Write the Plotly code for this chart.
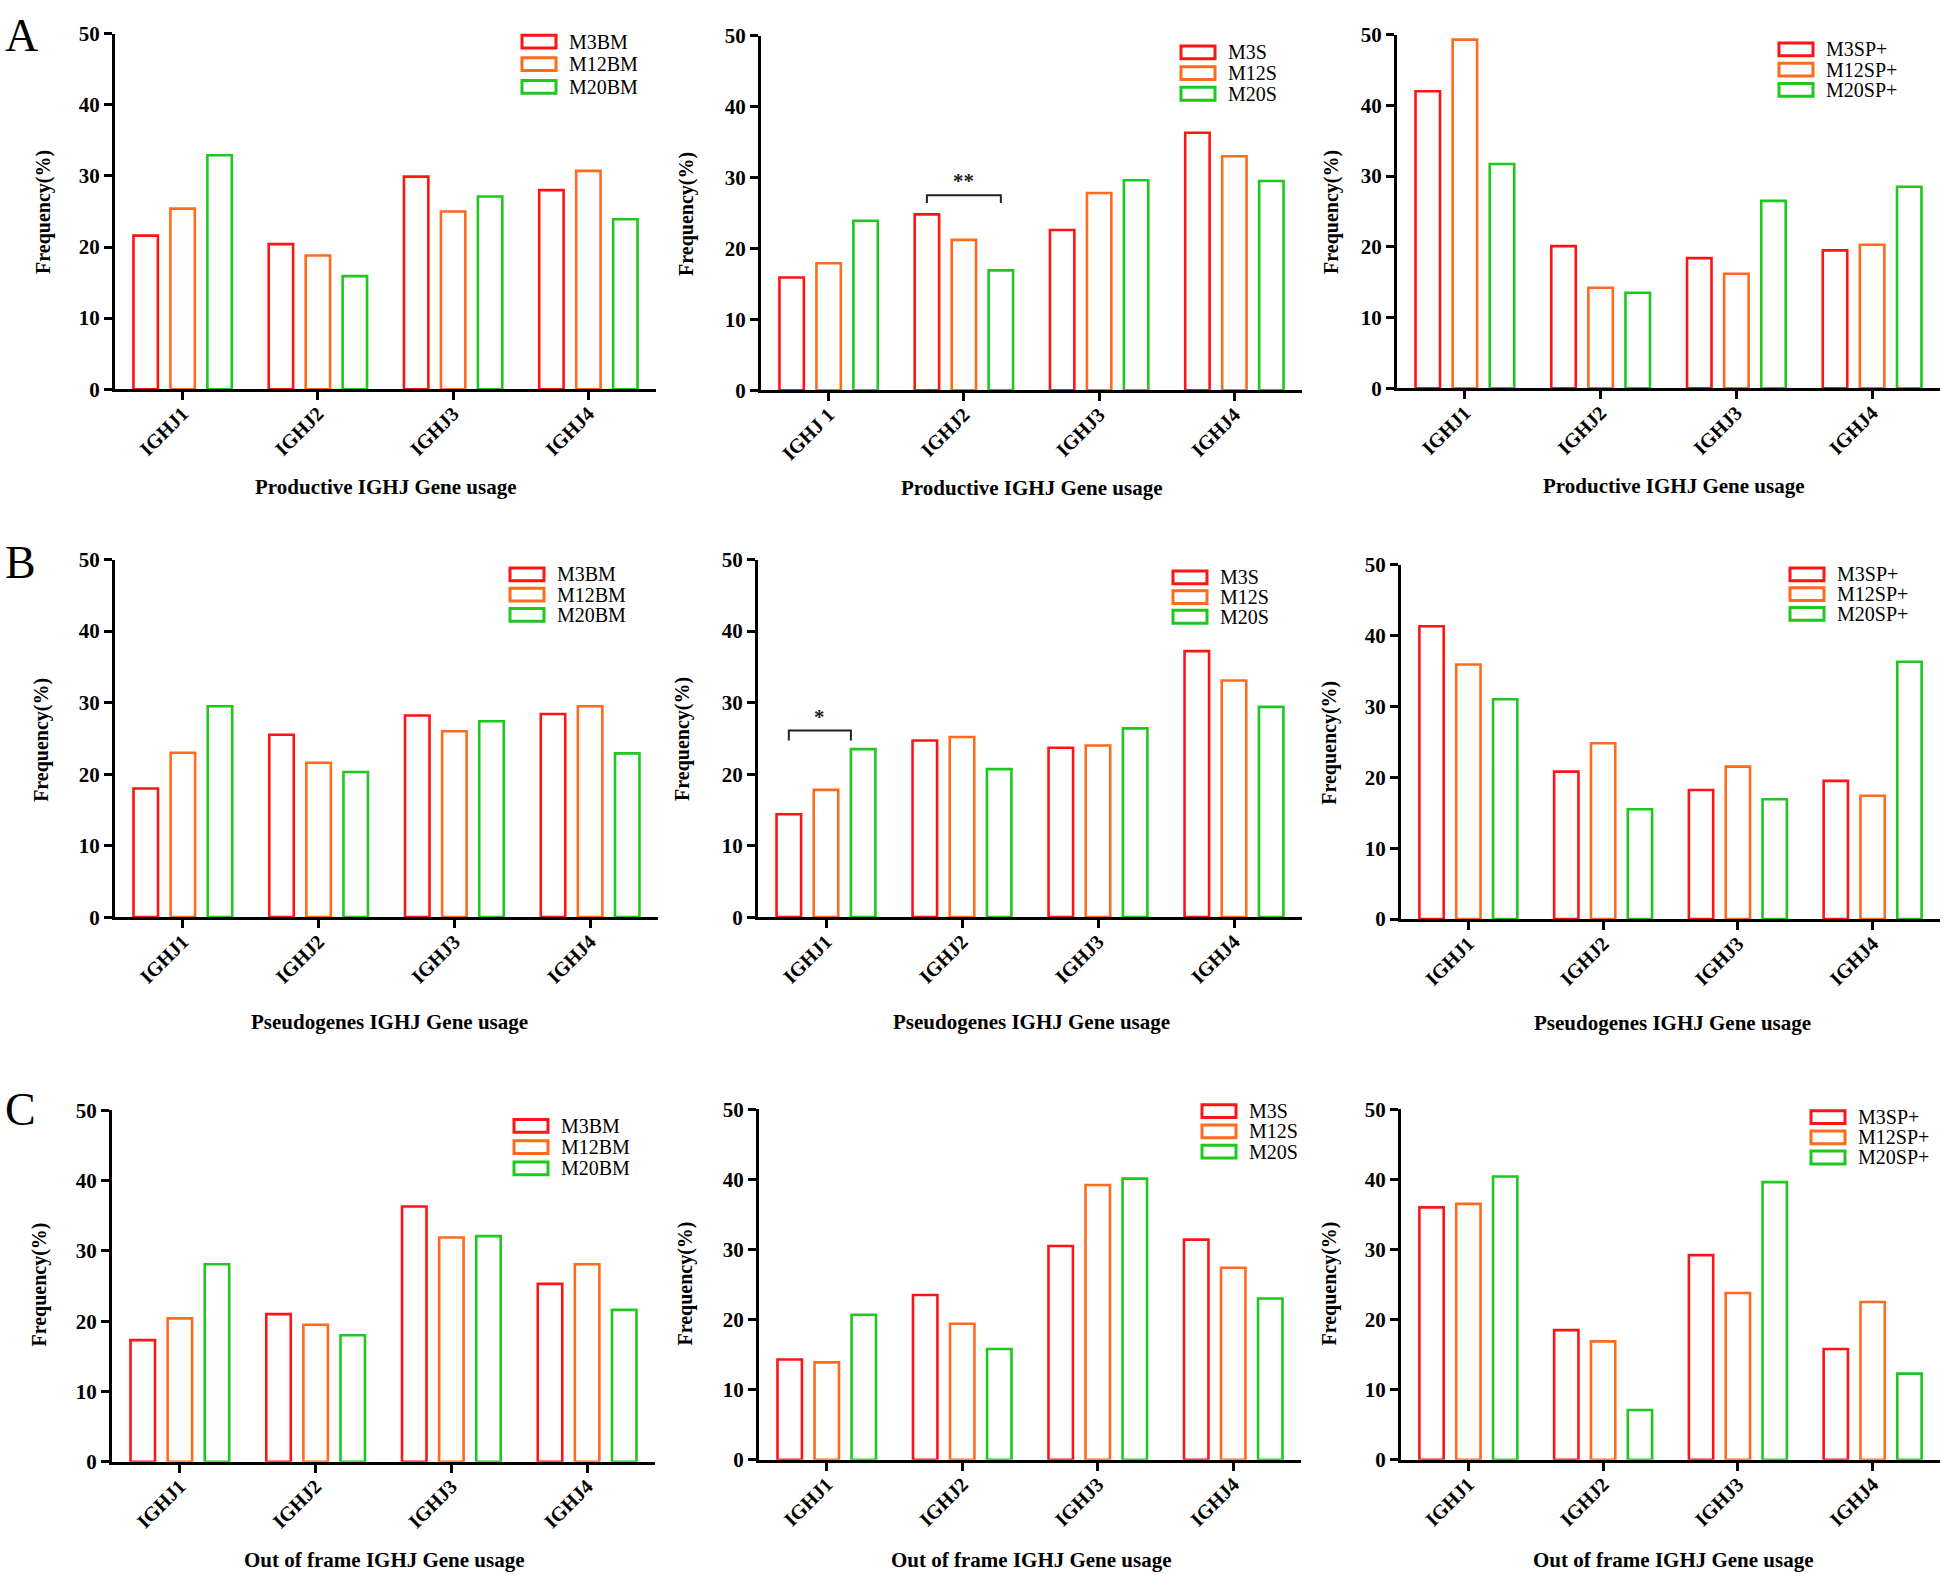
import plotly.graph_objects as go

W, H = 1946, 1593

# ---------------- data ----------------
categories = ["IGHJ1", "IGHJ2", "IGHJ3", "IGHJ4"]
categories_spaced = ["IGHJ 1", "IGHJ2", "IGHJ3", "IGHJ4"]
series_bm = ["M3BM", "M12BM", "M20BM"]
series_s = ["M3S", "M12S", "M20S"]
series_sp = ["M3SP+", "M12SP+", "M20SP+"]

# rows: M3, M12, M20 ; columns: IGHJ1..IGHJ4
productive_bm = [[21.6, 20.4, 29.9, 28.0], [25.4, 18.8, 25.0, 30.7], [32.9, 15.9, 27.1, 23.9]]
productive_s = [[15.9, 24.8, 22.6, 36.3], [17.9, 21.2, 27.8, 33.0], [23.9, 16.9, 29.6, 29.5]]
productive_sp = [[42.0, 20.1, 18.4, 19.5], [49.3, 14.2, 16.2, 20.3], [31.7, 13.5, 26.5, 28.5]]
pseudo_bm = [[18.0, 25.5, 28.2, 28.4], [23.0, 21.6, 26.0, 29.5], [29.5, 20.3, 27.4, 22.9]]
pseudo_s = [[14.4, 24.7, 23.7, 37.2], [17.8, 25.2, 24.0, 33.1], [23.5, 20.7, 26.4, 29.4]]
pseudo_sp = [[41.3, 20.8, 18.2, 19.5], [35.9, 24.8, 21.5, 17.4], [31.0, 15.5, 16.9, 36.3]]
outframe_bm = [[17.3, 21.0, 36.3, 25.3], [20.4, 19.5, 31.9, 28.1], [28.1, 18.0, 32.1, 21.6]]
outframe_s = [[14.3, 23.5, 30.5, 31.4], [13.9, 19.4, 39.2, 27.4], [20.7, 15.8, 40.1, 23.0]]
outframe_sp = [[36.0, 18.5, 29.2, 15.8], [36.5, 16.9, 23.8, 22.5], [40.4, 7.1, 39.6, 12.3]]

y_ticks = [0, 10, 20, 30, 40, 50]
row_letters = ["A", "B", "C"]
x_titles = ["Productive IGHJ Gene usage", "Pseudogenes IGHJ Gene usage", "Out of frame IGHJ Gene usage"]
y_title = "Frequency(%)"

# significance: (panel index, category index, label, bracket level, bracket foot, span kind)
sig_labels = [(1, 1, "**", 27.5, 26.4, "full"), (4, 0, "*", 26.1, 24.7, "half")]

# ---------------- style / layout ----------------
colors = ["#FF1414", "#FF6A1C", "#1EC81E"]
FONT = "Liberation Serif"
BARGAP = 0.18
BARGROUPGAP = 0.34
LINE_W = 2.6

# pixel boxes of plot areas: (left, top, right, bottom)
boxes = [
    (115, 22, 656, 383), (761, 24, 1302, 384), (1397, 23, 1940, 382),
    (115, 556, 658, 919), (758, 556, 1302, 919), (1401, 561, 1940, 921),
    (112, 1115, 655, 1472), (759, 1114, 1301, 1470), (1401, 1114, 1940, 1470),
]
# legend: (box left x, first row centre y, row spacing)
legends = [
    (522, 30, 23), (1181, 41, 21), (1779, 38, 20.5),
    (510, 571, 20.5), (1173, 574, 20), (1790, 571, 20),
    (514, 1131, 21.5), (1202, 1116, 20.5), (1811, 1122, 20.5),
]
LEG_BOX_W, LEG_BOX_H, LEG_TEXT_GAP = 34, 13, 12
xtitle_pos = [(386, 482), (1032, 483), (1674, 481),
              (389, 1025), (1031, 1025), (1672, 1026),
              (384, 1572), (1031, 1572), (1673, 1572)]
ytitle_pos = [(44, 203), (687, 205), (1332, 203),
              (42, 739), (683, 738), (1330, 742),
              (40, 1292), (686, 1291), (1330, 1291)]
letter_pos = [(3, -4), (3, 531), (3, 1086)]


def px(x):
    return x / W


def py(y):
    return 1 - y / H


panels = [
    (productive_bm, series_bm, categories), (productive_s, series_s, categories_spaced), (productive_sp, series_sp, categories),
    (pseudo_bm, series_bm, categories), (pseudo_s, series_s, categories), (pseudo_sp, series_sp, categories),
    (outframe_bm, series_bm, categories), (outframe_s, series_s, categories), (outframe_sp, series_sp, categories),
]

fig = go.Figure()
layout = dict(
    width=W, height=H, margin=dict(l=0, r=0, t=0, b=0),
    paper_bgcolor="white", plot_bgcolor="white",
    barmode="group", bargap=BARGAP, bargroupgap=BARGROUPGAP,
    showlegend=False,
)
annotations = []
shapes = []

for i, (vals, names, cats) in enumerate(panels):
    n = i + 1
    xa = "x" if n == 1 else f"x{n}"
    ya = "y" if n == 1 else f"y{n}"
    for s in range(3):
        fig.add_trace(go.Bar(
            x=cats, y=vals[s], name=names[s], xaxis=xa, yaxis=ya,
            marker=dict(color="white", line=dict(color=colors[s], width=LINE_W)),
            showlegend=False,
        ))
    l, t, r, b = boxes[i]
    layout["xaxis" if n == 1 else f"xaxis{n}"] = dict(
        domain=[px(l), px(r)], anchor=ya, range=[-0.5, 3.5],
        showline=True, linecolor="black", linewidth=3,
        ticks="outside", ticklen=8, tickwidth=3, tickcolor="black",
        tickangle=-45, showgrid=False, zeroline=False, ticklabelstandoff=-6,
        tickfont=dict(family=FONT, size=20, color="black", weight="bold"),
    )
    layout["yaxis" if n == 1 else f"yaxis{n}"] = dict(
        domain=[py(b), py(t)], anchor=xa, range=[0, 50], tickvals=y_ticks,
        showline=True, linecolor="black", linewidth=3,
        ticks="outside", ticklen=8, tickwidth=3, tickcolor="black",
        showgrid=False, zeroline=False,
        tickfont=dict(family=FONT, size=21, color="black", weight="bold"),
    )
    # titles
    tx, ty = xtitle_pos[i]
    annotations.append(dict(
        text=x_titles[i // 3], x=px(tx), y=py(ty), xref="paper", yref="paper",
        xanchor="center", yanchor="middle", showarrow=False, borderpad=0,
        font=dict(family=FONT, size=21, color="black", weight="bold"),
    ))
    yx, yy = ytitle_pos[i]
    annotations.append(dict(
        text=y_title, x=px(yx), y=py(yy), xref="paper", yref="paper",
        xanchor="center", yanchor="middle", showarrow=False, textangle=-90,
        font=dict(family=FONT, size=20, color="black", weight="bold"),
    ))
    # legend
    lx, ly0, dy = legends[i]
    for s in range(3):
        cy = ly0 + s * dy
        shapes.append(dict(
            type="rect", xref="paper", yref="paper",
            x0=px(lx), x1=px(lx + LEG_BOX_W), y0=py(cy + LEG_BOX_H / 2), y1=py(cy - LEG_BOX_H / 2),
            line=dict(color=colors[s], width=3), fillcolor="rgba(0,0,0,0)",
        ))
        annotations.append(dict(
            text=names[s], x=px(lx + LEG_BOX_W + LEG_TEXT_GAP), y=py(cy), xref="paper", yref="paper",
            xanchor="left", yanchor="middle", showarrow=False, borderpad=0,
            font=dict(family=FONT, size=20, color="black"),
        ))

# significance brackets
slot = (1 - BARGAP) / 3
bar_w = slot * (1 - BARGROUPGAP)
for (pi, ci, lab, ytop, yfoot, kind) in sig_labels:
    n = pi + 1
    xr = "x" if n == 1 else f"x{n}"
    yr = "y" if n == 1 else f"y{n}"
    x0 = ci - slot
    x1 = ci + slot if kind == "full" else ci + slot - bar_w / 2
    shapes.append(dict(
        type="path", xref=xr, yref=yr,
        path=f"M {x0},{yfoot} L {x0},{ytop} L {x1},{ytop} L {x1},{yfoot}",
        line=dict(color="#222222", width=2),
    ))
    annotations.append(dict(
        text=lab, x=(x0 + x1) / 2, y=ytop, xref=xr, yref=yr,
        xanchor="center", yanchor="bottom", showarrow=False,
        font=dict(family=FONT, size=21, color="#222222", weight="bold"),
    ))

# row letters
for k, (lxp, lyp) in enumerate(letter_pos):
    annotations.append(dict(
        text=row_letters[k], x=px(lxp), y=py(lyp), xref="paper", yref="paper",
        xanchor="left", yanchor="top", showarrow=False,
        font=dict(family=FONT, size=46, color="black"),
    ))

layout["annotations"] = annotations
layout["shapes"] = shapes
fig.update_layout(**layout)
# remove the browser's default 8px body margin so the figure sits at the page origin
fig.write_html(
    "out.html",
    config={"displayModeBar": False},
    post_script="document.body.style.margin='0';document.body.style.overflow='hidden';",
)
